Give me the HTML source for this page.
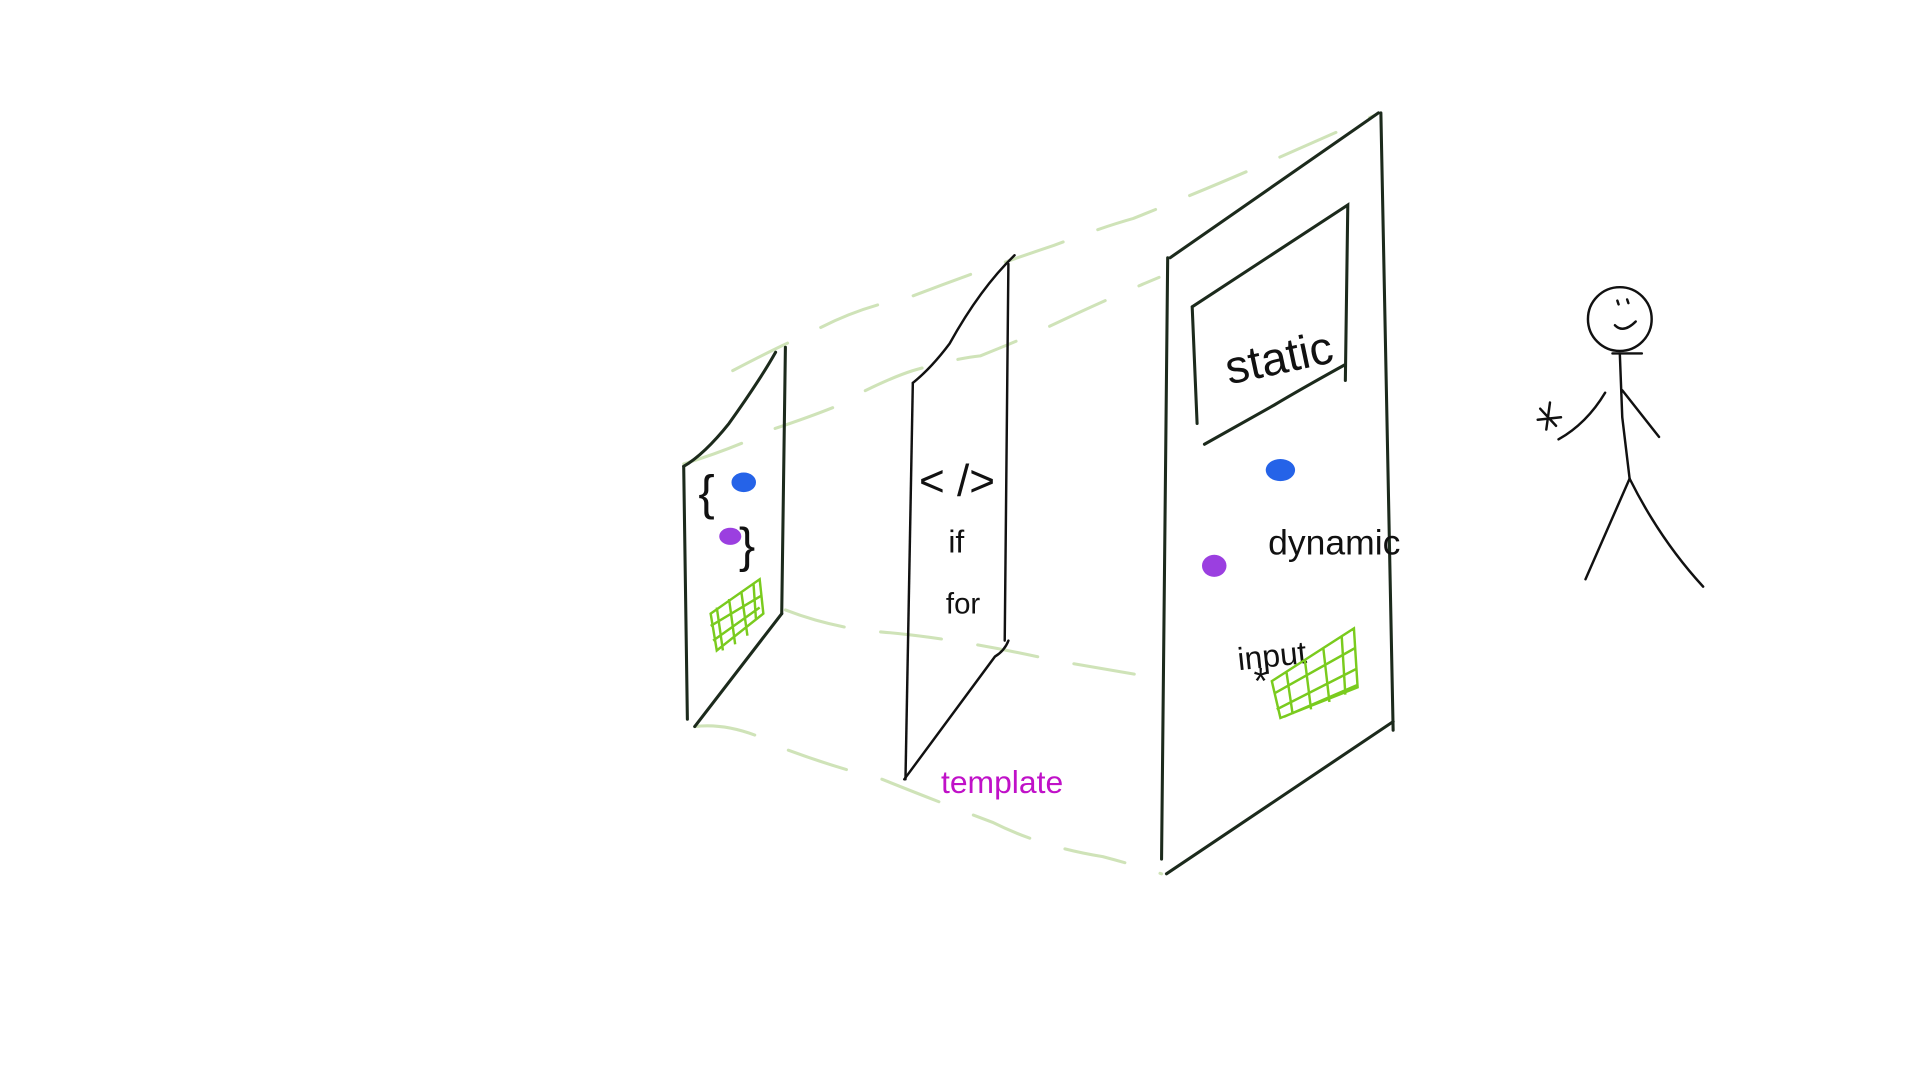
<!DOCTYPE html>
<html><head><meta charset="utf-8"><style>
html,body{margin:0;padding:0;background:#fff;width:1920px;height:1080px;overflow:hidden}
svg{display:block}
text{font-family:"Liberation Sans",sans-serif}
</style></head><body>
<svg width="1920" height="1080" viewBox="0 0 1567 880" preserveAspectRatio="none" xmlns="http://www.w3.org/2000/svg">
<g fill="none" stroke="#cfe3b8" stroke-width="2.5" stroke-dasharray="50 30" stroke-linecap="round">
<path d="M598,302 Q640,280 660,272 Q700,250 740,243 Q800,220 860,200 Q900,185 925,178 Q990,152 1040,130 Q1090,108 1122,94"/>
<path d="M558,378 Q600,365 630,350 Q660,340 680,332 Q720,310 745,302 Q780,292 800,290 Q830,278 848,270 Q900,245 946,226"/>
<path d="M641,497 Q680,512 720,515 Q780,520 860,538 Q900,545 948,553"/>
<path d="M567,592 Q600,588 640,610 Q680,625 720,635 Q770,655 810,670 Q850,690 900,698 Q930,706 948,712"/>
</g>
<g fill="none" stroke="#1c2a1c" stroke-width="2.5" stroke-linecap="round">
<path d="M558,380 L561,586"/>
<path d="M641,283 L638,500"/>
<path d="M558,380 Q575,370 595,345 Q620,310 633,287"/>
<path d="M638,500 L567,592"/>
</g>
<g fill="none" stroke="#111" stroke-width="2" stroke-linecap="round">
<path d="M745,312 L739,635"/>
<path d="M823,215 L820,522"/>
<path d="M745,312 Q760,300 775,280 Q800,235 828,208"/>
<path d="M823,522 Q820,530 812,535 L738,635"/>
</g>
<g fill="none" stroke="#1c2a1c" stroke-width="2.5" stroke-linecap="round">
<path d="M953,210 L948,700"/>
<path d="M955,210 L1125,92"/>
<path d="M1127,92 L1137,595"/>
<path d="M1137,588 L952,712"/>
<path d="M973,250 L977,345 M973,250 L1100,167 L1098,310 M1098,297 Q1060,318 1040,330 L983,362"/>
</g>
<text x="998" y="305" font-size="38" transform="rotate(-12 1040 285)" fill="#111">static</text>
<text x="1035" y="452" font-size="29" fill="#111">dynamic</text>
<text x="1010" y="543" font-size="26" transform="rotate(-6 1040 535)" fill="#111">input</text>
<text x="1023" y="565" font-size="30" fill="#111">*</text>
<text x="750" y="404" font-size="36" fill="#111">&lt; /&gt;</text>
<text x="774" y="450" font-size="26" fill="#111">if</text>
<text x="772" y="500" font-size="24" fill="#111">for</text>
<text x="768" y="646" font-size="26" fill="#c011c8">template</text>
<text x="570" y="415" font-size="40" fill="#111">{</text>
<text x="603" y="458" font-size="40" fill="#111">}</text>
<g>
<ellipse cx="607" cy="393" rx="10" ry="8" fill="#2563e8"/>
<ellipse cx="596" cy="437" rx="9" ry="7" fill="#9b3fe0"/>
<ellipse cx="1045" cy="383" rx="12" ry="9" fill="#2563e8"/>
<ellipse cx="991" cy="461" rx="10" ry="9" fill="#9b3fe0"/>
</g>
<g fill="none" stroke="#7acb1e" stroke-width="2">
<path d="M580,500 L620,472 L623,500 L585,530 Z M585,495 L590,530 M595,488 L600,525 M605,482 L610,518 M615,476 L617,505 M580,510 L622,485 M582,522 L620,495"/>
<path d="M1038,555 L1105,512 L1108,560 L1045,585 Z M1050,548 L1055,582 M1065,538 L1070,578 M1080,528 L1085,572 M1095,518 L1098,566 M1040,565 L1106,528 M1042,578 L1107,545 M1048,584 L1108,558"/>
</g>
<g fill="none" stroke="#111" stroke-width="2" stroke-linecap="round">
<circle cx="1322" cy="260" r="26"/>
<path d="M1318,265 Q1325,272 1335,262 M1320,245 L1321,248 M1328,244 L1329,247"/>
<path d="M1316,288 L1340,288 M1322,288 L1324,340 L1330,390"/>
<path d="M1330,390 L1294,472 M1330,390 Q1355,440 1390,478"/>
<path d="M1324,318 L1354,356 M1310,320 Q1295,345 1272,358"/>
<path d="M1257,333 L1270,347 M1265,328 L1262,350 M1255,342 L1274,340"/>
</g>
</svg>
</body></html>
